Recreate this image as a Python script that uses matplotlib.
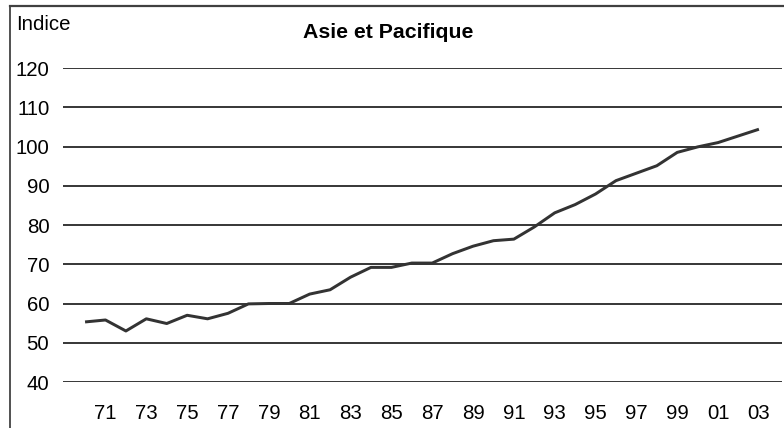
import numpy as np
import matplotlib.pyplot as plt
from matplotlib.lines import Line2D

plt.rcParams['font.family'] = ['Liberation Sans', 'DejaVu Sans']

# données (indice)
years = list(range(1970, 2004))
values = [55.3, 55.8, 53.0, 56.1, 54.9, 57.0, 56.1, 57.5, 59.9, 60.0,
          60.0, 62.4, 63.5, 66.7, 69.2, 69.2, 70.3, 70.3, 72.7, 74.6,
          76.0, 76.4, 79.5, 83.1, 85.2, 87.9, 91.3, 93.2, 95.1, 98.5,
          99.9, 101.0, 102.7, 104.4]
yticks = [40, 50, 60, 70, 80, 90, 100, 110, 120]
xticks = list(range(1971, 2004, 2))
xlabels = ['%02d' % (y % 100) for y in xticks]

W, H = 784, 428
fig = plt.figure(figsize=(W / 100, H / 100), dpi=100)
# axes placé en pixels : gauche 63, droite 782, y=40 à 382px, y=120 à 68px
ax = fig.add_axes([63 / W, 1 - 382 / H, (782 - 63) / W, (382 - 68) / H])

ax.plot(years, values, color='#333333', lw=2.15, solid_capstyle='butt', zorder=3)

ax.set_xlim(1968.92, 2004.13)
ax.set_ylim(40, 120)
ax.set_yticks(yticks)
ax.set_xticks(xticks)
ax.set_xticklabels(xlabels)
ax.yaxis.grid(True, color='black', lw=1.1)
ax.set_axisbelow(True)
for s in ax.spines.values():
    s.set_visible(False)
ax.tick_params(axis='y', length=0, pad=9.9, labelsize=14.7, colors='black')
ax.tick_params(axis='x', length=0, pad=16, labelsize=14.7, colors='black')

fig.text(16 / W, 1 - 24 / H, 'Indice', fontsize=14.7, va='center', ha='left')
fig.text(388 / W, 1 - 33 / H, 'Asie et Pacifique', fontsize=15.3,
         fontweight='bold', va='center', ha='center')

# cadre (haut et gauche)
fig.add_artist(Line2D([9.5 / W, 9.5 / W], [0, 1 - 6 / H], color='#222222',
                      lw=1.1, transform=fig.transFigure))
fig.add_artist(Line2D([9.5 / W, 1], [1 - 6 / H, 1 - 6 / H], color='#404040',
                      lw=1.6, transform=fig.transFigure))

fig.savefig('out.png', dpi=100)
